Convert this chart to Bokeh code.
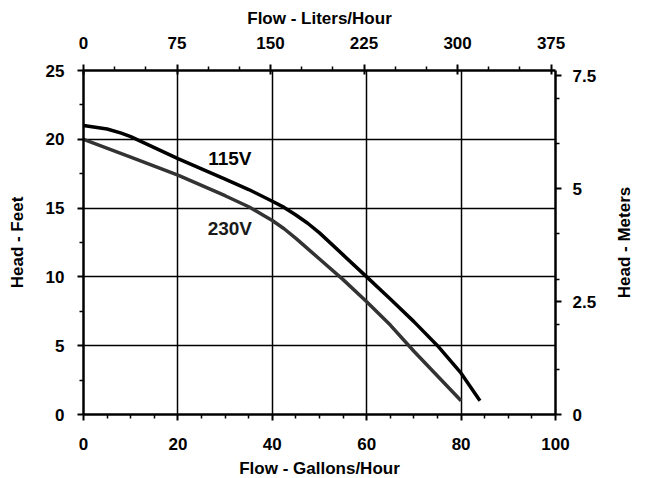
import math
from bokeh.plotting import figure
from bokeh.layouts import row
from bokeh.models import LinearAxis, Range1d, FixedTicker, Label
from bokeh.embed import file_html
from bokeh.resources import INLINE

# ---- data ----
series = ["115V", "230V"]
gal_115 = [0, 5, 8, 10, 15, 20, 30, 35, 40, 42.5, 45, 47.5, 50, 55, 60, 65, 70, 75, 80, 84]
ft_115 = [21.0, 20.75, 20.45, 20.2, 19.4, 18.6, 17.1, 16.35, 15.5, 15.05, 14.5, 13.9, 13.2, 11.6,
          10.0, 8.4, 6.75, 5.0, 3.0, 1.0]
gal_230 = [0, 10, 20, 30, 35, 38, 40, 42.5, 45, 50, 55, 60, 65, 70, 75, 80]
ft_230 = [20.0, 18.7, 17.4, 15.9, 15.1, 14.5, 14.1, 13.5, 12.8, 11.3, 9.8, 8.2, 6.5, 4.6, 2.8, 1.0]

gal_ticks = [0, 20, 40, 60, 80, 100]
gal_minor = [v for v in range(0, 101, 5) if v % 20]
ft_ticks = [0, 5, 10, 15, 20, 25]
ft_minor = [2.5, 7.5, 12.5, 17.5, 22.5]
lph_ticks = [0, 75, 150, 225, 300, 375]
lph_minor = [v for v in range(0, 376, 25) if v % 75]
m_ticks = [0, 2.5, 5, 7.5]
m_minor = [1, 2, 3, 4, 6, 7]
right_title = "Head - Meters"

GAL_MAX = 100
FT_MAX = 25
LPH_MAX = GAL_MAX * 3.78541
M_MAX = FT_MAX * 0.3048

FONT = "Liberation Sans"

p = figure(frame_width=472, frame_height=344,
           x_range=Range1d(0, GAL_MAX), y_range=Range1d(0, FT_MAX),
           output_backend="svg", toolbar_location=None,
           min_border_left=83, min_border_right=45,
           min_border_top=70, min_border_bottom=56)
p.outline_line_color = None
p.background_fill_color = "white"
p.border_fill_color = "white"

p.extra_x_ranges = {"lph": Range1d(0, LPH_MAX)}
p.extra_y_ranges = {"m": Range1d(0, M_MAX)}


def style(ax, label, tick_std, label_std, major_in=0):
    ax.axis_label = label
    ax.axis_label_text_font = FONT
    ax.axis_label_text_font_style = "bold"
    ax.axis_label_text_font_size = "17px"
    ax.axis_label_text_color = "black"
    ax.axis_label_standoff = label_std
    ax.major_label_text_font = FONT
    ax.major_label_text_font_style = "bold"
    ax.major_label_text_font_size = "17px"
    ax.major_label_text_color = "black"
    ax.major_label_standoff = tick_std
    ax.axis_line_color = "black"
    ax.axis_line_width = 2.5
    ax.major_tick_line_color = "black"
    ax.major_tick_line_width = 2
    ax.major_tick_out = 6
    ax.major_tick_in = major_in
    ax.minor_tick_line_color = "black"
    ax.minor_tick_line_width = 1.5
    ax.minor_tick_out = 4
    ax.minor_tick_in = 0


xb = p.xaxis[0]
xb.ticker = FixedTicker(ticks=gal_ticks, minor_ticks=gal_minor)
style(xb, "Flow - Gallons/Hour", 17, 6)

yl = p.yaxis[0]
yl.ticker = FixedTicker(ticks=ft_ticks, minor_ticks=ft_minor)
style(yl, "Head - Feet", 13, 16)

xt = LinearAxis(x_range_name="lph",
                ticker=FixedTicker(ticks=lph_ticks, minor_ticks=lph_minor))
style(xt, "Flow - Liters/Hour", 16, 6, major_in=4)
p.add_layout(xt, "above")

yr = LinearAxis(y_range_name="m",
                ticker=FixedTicker(ticks=m_ticks, minor_ticks=m_minor))
style(yr, None, 11, 0)
p.add_layout(yr, "right")

p.xgrid.ticker = FixedTicker(ticks=[t for t in gal_ticks if 0 < t < GAL_MAX])
p.ygrid.ticker = FixedTicker(ticks=[t for t in ft_ticks if 0 < t < FT_MAX])
for g in (p.xgrid[0], p.ygrid[0]):
    g.grid_line_color = "black"
    g.grid_line_width = 1.5
    g.grid_line_alpha = 1.0

p.line(gal_230, ft_230, line_color="#333333", line_width=3.5, line_join="round")
p.line(gal_115, ft_115, line_color="black", line_width=3.5, line_join="round")

p.add_layout(Label(x=31, y=18.6, text=series[0], text_align="center",
                   text_baseline="middle", text_font=FONT,
                   text_font_style="bold", text_font_size="19px",
                   text_color="black"))
p.add_layout(Label(x=31, y=13.5, text=series[1], text_align="center",
                   text_baseline="middle", text_font=FONT,
                   text_font_style="bold", text_font_size="19px",
                   text_color="#1a1a1a"))

# narrow side panel carrying the right-hand axis title (reads bottom-to-top)
p2 = figure(frame_width=40, frame_height=344,
            x_range=Range1d(0, 1), y_range=Range1d(0, 1),
            x_axis_type=None, y_axis_type=None,
            output_backend="svg", toolbar_location=None,
            min_border_left=0, min_border_right=0,
            min_border_top=70, min_border_bottom=0)
p2.outline_line_color = None
p2.background_fill_color = "white"
p2.border_fill_color = "white"
p2.add_layout(Label(x=0.6, y=0.5, text=right_title, angle=math.pi / 2,
                    text_align="center", text_baseline="middle",
                    text_font=FONT, text_font_style="bold",
                    text_font_size="17px", text_color="black"))

layout = row(p, p2)
open("out.html", "w").write(file_html(layout, INLINE))
